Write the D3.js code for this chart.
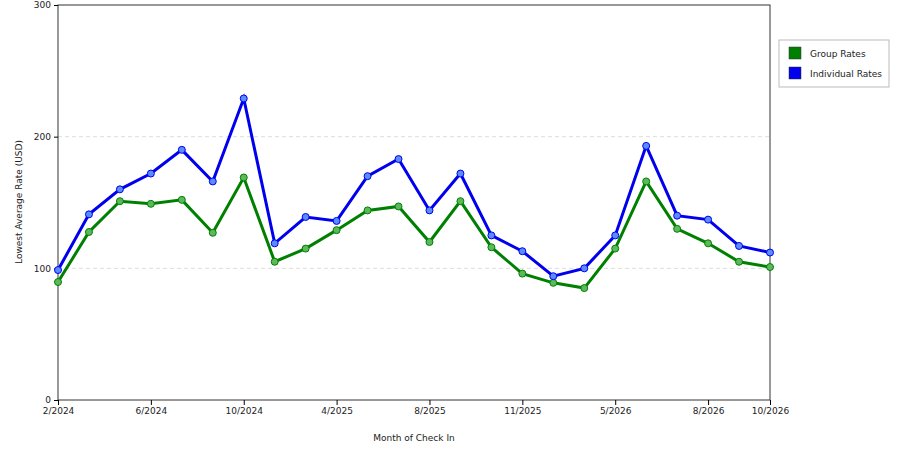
<!DOCTYPE html>
<html><head><meta charset="utf-8">
<script src="https://cdn.jsdelivr.net/npm/d3@7/dist/d3.min.js"></script>
<style>body{margin:0;background:#fff}text{font-family:"DejaVu Sans",Verdana,sans-serif;font-size:9px;fill:#222}</style>
</head><body><svg id="c" width="900" height="450"></svg>
<script>
const tickLabels=["2/2024","","","6/2024","","","10/2024","","","4/2025","","","8/2025","","","11/2025","","","5/2026","","","8/2026","","10/2026"];
const groupRates=[89.6,127.6,151,149,152,127,169,105,115,129,144,147,120,151,116,96,89,85,115,166,130,119,105,101];
const individualRates=[98.7,141,160,172,190,166,229,119,139,136,170,183,144,172,125,113,94,100,125,193,140,137,117,112];
const yTicks=[0,100,200,300];
const series=[{name:"Group Rates",values:groupRates,color:"#008000",fill:"#5cb85c"},{name:"Individual Rates",values:individualRates,color:"#0000ee",fill:"#5a8cff"}];
const svg=d3.select("#c");
const L=58,R=770,T=5,B=400;
const x=d3.scalePoint().domain(d3.range(tickLabels.length)).range([L,R]);
const y=d3.scaleLinear().domain([0,300]).range([B,T]);
svg.append("g").selectAll("line").data([100,200]).join("line").attr("x1",L).attr("x2",R).attr("y1",d=>y(d)).attr("y2",d=>y(d)).attr("stroke","#ddd").attr("stroke-dasharray","4,3");
svg.append("rect").attr("x",L).attr("y",T).attr("width",R-L).attr("height",B-T).attr("fill","none").attr("stroke","#333");
svg.append("g").attr("transform",`translate(${L},0)`).call(d3.axisLeft(y).tickValues(yTicks).tickSize(4)).call(g=>g.select(".domain").remove()).selectAll("text").style("font-size","9px");
const xa=svg.append("g").attr("transform",`translate(0,${B})`).call(d3.axisBottom(x).tickValues(d3.range(tickLabels.length).filter(i=>tickLabels[i])).tickFormat(i=>tickLabels[i]).tickSize(5));
xa.select(".domain").remove();xa.selectAll("text").style("font-size","9px");
const line=d3.line().x((d,i)=>x(i)).y(d=>y(d));
series.forEach(s=>{
 svg.append("path").datum(s.values).attr("d",line).attr("fill","none").attr("stroke",s.color).attr("stroke-width",3);
 svg.append("g").selectAll("circle").data(s.values).join("circle").attr("cx",(d,i)=>x(i)).attr("cy",d=>y(d)).attr("r",3.5).attr("fill",s.fill).attr("stroke",s.color).attr("stroke-width",1);
});
svg.append("text").attr("x",(L+R)/2).attr("y",441).attr("text-anchor","middle").text("Month of Check In");
svg.append("text").attr("transform","translate(22,202) rotate(-90)").attr("text-anchor","middle").text("Lowest Average Rate (USD)");
const lg=svg.append("g");
lg.append("rect").attr("x",779).attr("y",40).attr("width",110).attr("height",47).attr("fill","#fff").attr("stroke","#bbb");
series.forEach((s,i)=>{
 lg.append("rect").attr("x",789).attr("y",47+i*20).attr("width",12).attr("height",12).attr("fill",s.color).attr("stroke","#333").attr("stroke-width",0.5);
 lg.append("text").attr("x",810).attr("y",57+i*20).text(s.name);
});
</script></body></html>
